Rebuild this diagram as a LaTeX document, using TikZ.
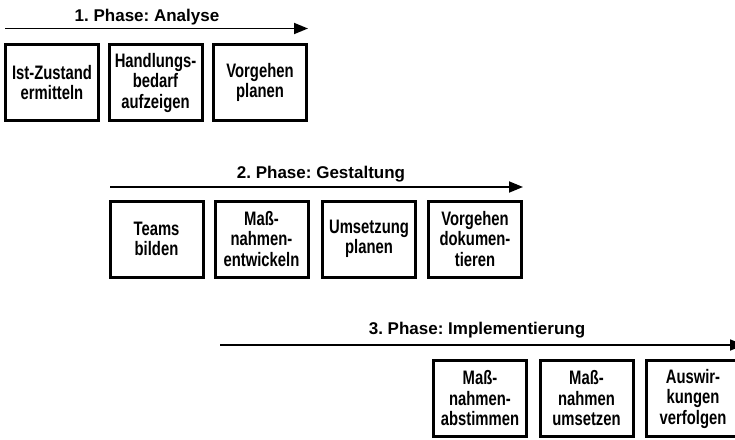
\documentclass[tikz,border=0pt]{standalone}
\usepackage{fontspec}
\setmainfont{Liberation Sans}
\newfontfamily\boxfont[FakeStretch=0.76]{Liberation Sans}
\usetikzlibrary{arrows.meta}
\tikzset{
  stepbox/.style={draw=black, line width=3pt, fill=white, align=center,
    minimum width=93pt, minimum height=76pt, inner sep=0pt,
    font=\boxfont\fontsize{19.5}{20.5}\selectfont\bfseries},
  phasearrow/.style={line width=1.8pt, -{Triangle[length=14pt,width=11pt]}},
  phasetitle/.style={font=\fontsize{17}{18}\selectfont\bfseries\frenchspacing, inner sep=0pt}
}
\begin{document}
\begin{tikzpicture}[x=1pt,y=-1pt]
\useasboundingbox (0,0) rectangle (735,439);
\clip (0,0) rectangle (735,439);
% Phase 1
\coordinate (a1s) at (5,28.5);
\coordinate (a1e) at (308,28.5);
\draw[phasearrow] (a1s) -- (a1e);
\node[phasetitle] (t1) at (147,17) {1. Phase: Analyse};
\node[stepbox] (b11) at (52,82.5) {Ist-Zustand\\ermitteln};
\node[stepbox] (b12) at (155.5,82.5) {Handlungs-\\bedarf\\aufzeigen};
\node[stepbox] (b13) at (260,82.5) {Vorgehen\\planen};
% Phase 2
\coordinate (a2s) at (110,187);
\coordinate (a2e) at (523,187);
\draw[phasearrow] (a2s) -- (a2e);
\node[phasetitle] (t2) at (321,174) {2. Phase: Gestaltung};
\node[stepbox] (b21) at (156.5,239) {Teams\\bilden};
\node[stepbox] (b22) at (261.5,239) {Maß-\\nahmen-\\entwickeln};
\node[stepbox] (b23) at (369,239) {Umsetzung\\planen};
\node[stepbox] (b24) at (475,239) {Vorgehen\\dokumen-\\tieren};
% Phase 3
\coordinate (a3s) at (220,345);
\coordinate (a3e) at (744,345);
\draw[phasearrow] (a3s) -- (a3e);
\node[phasetitle] (t3) at (477,330) {3. Phase: Implementierung};
\node[stepbox] (b31) at (480,398.5) {Maß-\\nahmen-\\abstimmen};
\node[stepbox] (b32) at (586.5,398.5) {Maß-\\nahmen\\umsetzen};
\node[stepbox] (b33) at (693,398.5) {Auswir-\\kungen\\verfolgen};
\end{tikzpicture}
\end{document}
